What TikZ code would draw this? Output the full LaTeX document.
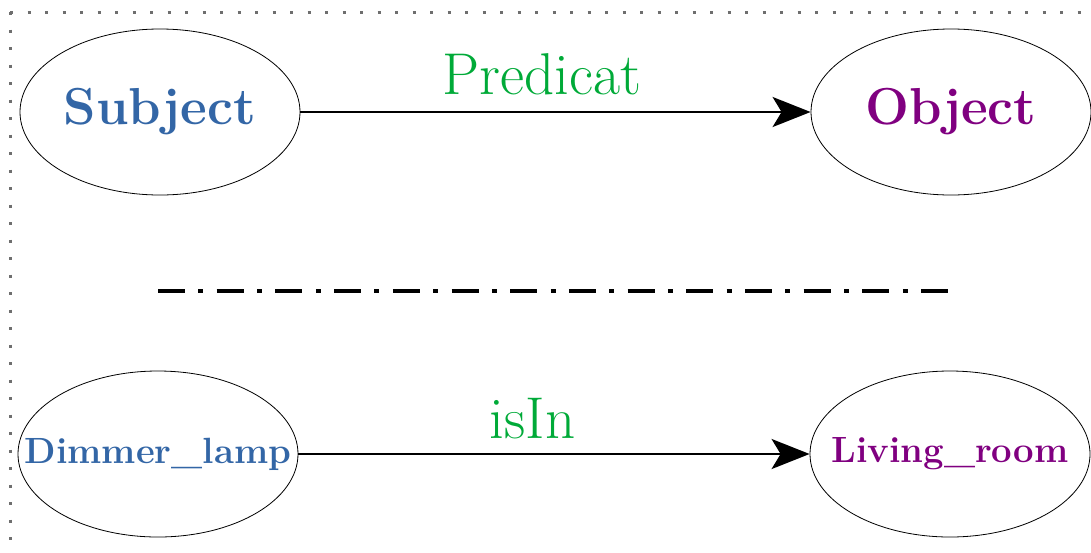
\documentclass[tikz,border=0pt]{standalone}
\usepackage{fontspec}
\usetikzlibrary{shapes.geometric,arrows.meta}
\definecolor{subjblue}{RGB}{51,102,166}
\definecolor{objpurple}{RGB}{128,0,128}
\definecolor{predgreen}{RGB}{0,170,56}
\definecolor{dotgrey}{RGB}{110,110,110}
\newcommand{\nowidth}[1]{\makebox[0pt]{#1}}
\tikzset{
  ent/.style={draw=black, line width=0.8pt, ellipse, minimum width=280pt, minimum height=166pt, inner sep=0pt},
  bigtxt/.style={font=\bfseries\fontsize{52}{56}\selectfont},
  smalltxt/.style={font=\bfseries\fontsize{36.5}{42}\selectfont},
  rel/.style={line width=2.6pt, -{Stealth[length=38pt,width=30pt,inset=9pt]}},
  lbl/.style={text=predgreen, font=\fontsize{59}{64}\selectfont, anchor=base, inner sep=0pt},
  border/.style={dotgrey, line width=3pt, dash pattern=on 3pt off 14.5pt},
  sep/.style={line width=4pt, dash pattern=on 27pt off 13.35pt on 5pt off 13.35pt}
}
\begin{document}
\begin{tikzpicture}[x=1pt,y=-1pt]
\useasboundingbox (0,0) rectangle (1091,552);
\coordinate (bt1) at (10,12);
\coordinate (bt2) at (1091,12);
\coordinate (bl2) at (10,552);
\draw[border] (bt1) -- (bt2);
\draw[border] (bt1) -- (bl2);
\node[ent, text=subjblue, bigtxt] (s) at (160,112) {\nowidth{Subject}};
\node[ent, text=objpurple, bigtxt] (o) at (951,112) {\nowidth{Object}};
\node[ent, text=subjblue, smalltxt] (d) at (158,454) {\nowidth{Dimmer\_lamp}};
\node[ent, text=objpurple, smalltxt] (l) at (950,454) {\nowidth{Living\_room}};
\draw[rel] (s) -- node[lbl, pos=0.474, yshift=18pt] (p) {Predicat} (o);
\draw[rel] (d) -- node[lbl, pos=0.458, yshift=16pt] (i) {isIn} (l);
\coordinate (sa) at (158,291);
\coordinate (sb) at (948,291);
\draw[sep] (sa) -- (sb);
\end{tikzpicture}
\end{document}
